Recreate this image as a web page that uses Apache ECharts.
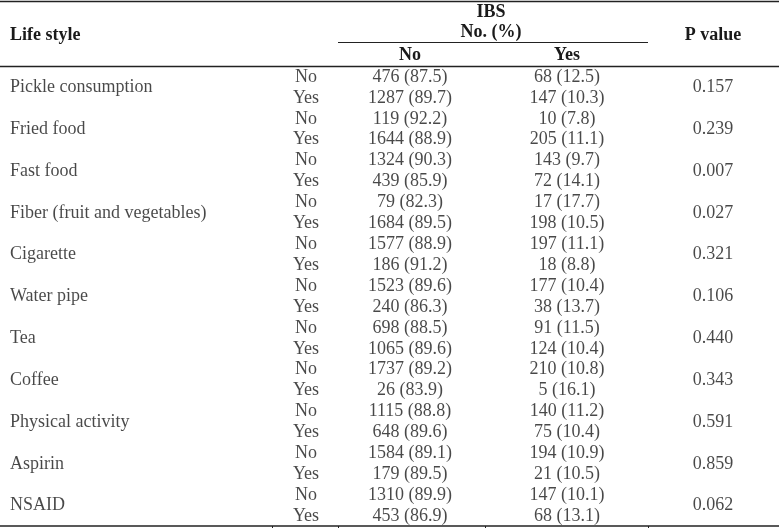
<!DOCTYPE html>
<html>
<head>
<meta charset="utf-8">
<style>
html,body{margin:0;padding:0;background:#fff;}
#chart{width:779px;height:528px;}
</style>
<script src="https://cdn.jsdelivr.net/npm/echarts@6/dist/echarts.min.js"></script>
</head>
<body>
<div id="chart"></div>
<script>
// ---- data ----
const lifeStyles = ['Pickle consumption','Fried food','Fast food','Fiber (fruit and vegetables)','Cigarette','Water pipe','Tea','Coffee','Physical activity','Aspirin','NSAID'];
const levels = ['No','Yes'];
const ibsNoCount = [476,1287,119,1644,1324,439,79,1684,1577,186,1523,240,698,1065,1737,26,1115,648,1584,179,1310,453];
const ibsNoPct = [87.5,89.7,92.2,88.9,90.3,85.9,82.3,89.5,88.9,91.2,89.6,86.3,88.5,89.6,89.2,83.9,88.8,89.6,89.1,89.5,89.9,86.9];
const ibsYesCount = [68,147,10,205,143,72,17,198,197,18,177,38,91,124,210,5,140,75,194,21,147,68];
const ibsYesPct = [12.5,10.3,7.8,11.1,9.7,14.1,17.7,10.5,11.1,8.8,10.4,13.7,11.5,10.4,10.8,16.1,11.2,10.4,10.9,10.5,10.1,13.1];
const pValues = ['0.157','0.239','0.007','0.027','0.321','0.106','0.440','0.343','0.591','0.859','0.062'];
const headers = {lifeStyle:'Life style', ibs:'IBS', noPct:'No. (%)', no:'No', yes:'Yes', p:'P value'};

// ---- layout ----
const FONT = '"Liberation Serif", "Times New Roman", serif';
const FS = 18;
const TXT = '#1a1a1a';
const COL = {name:10, level:306, no:410, yes:567, p:713};
const nRows = ibsNoCount.length;

function textSeries(name, x, align, items){
  return {
    type:'scatter', name, symbolSize:0, silent:true,
    data: items.map(it => ({value:[x, it.y], label:{formatter:it.t}})),
    label:{show:true, position:'inside', align, verticalAlign:'middle',
      color:TXT, fontFamily:FONT, fontSize:FS}
  };
}

const nameItems = lifeStyles.map((t,g)=>({t, y:2*g+1}));
const levelItems = ibsNoCount.map((_,i)=>({t:levels[i%2], y:i+0.5}));
const noItems = ibsNoCount.map((c,i)=>({t:c+' ('+ibsNoPct[i].toFixed(1)+')', y:i+0.5}));
const yesItems = ibsYesCount.map((c,i)=>({t:c+' ('+ibsYesPct[i].toFixed(1)+')', y:i+0.5}));
const pItems = pValues.map((t,g)=>({t, y:2*g+1}));

const chart = echarts.init(document.getElementById('chart'), null, {renderer:'canvas'});
const hdr = (text, x, y, align) => ({type:'text', x, y, silent:true,
  style:{text, fill:TXT, font:'bold '+FS+'px '+FONT, textAlign:align, textVerticalAlign:'middle'}});
const line = (x1,y1,x2,y2,w) => ({type:'line', silent:true,
  shape:{x1,y1,x2,y2}, style:{stroke:'#222', lineWidth:w||1.3}});

chart.setOption({
  animation:false,
  backgroundColor:'#fff',
  grid:{left:0, right:0, top:66.5, height:460},
  xAxis:{type:'value', min:0, max:779, show:false},
  yAxis:{type:'value', min:0, max:nRows, inverse:true, show:false},
  series:[
    textSeries('lifeStyle', COL.name, 'left', nameItems),
    textSeries('level', COL.level, 'center', levelItems),
    textSeries('ibsNo', COL.no, 'center', noItems),
    textSeries('ibsYes', COL.yes, 'center', yesItems),
    textSeries('pValue', COL.p, 'center', pItems)
  ],
  graphic:[
    line(0,1.5,779,1.5),
    line(338,42.5,648,42.5,1),
    line(0,66.5,779,66.5),
    line(0,526,779,526),
    line(272.5,526,272.5,528,1), line(338.5,526,338.5,528,1),
    line(485.5,526,485.5,528,1), line(648.5,526,648.5,528,1),
    hdr(headers.lifeStyle, 10, 35, 'left'),
    hdr(headers.ibs, 491, 12, 'center'),
    hdr(headers.noPct, 491, 32, 'center'),
    hdr(headers.no, COL.no, 55, 'center'),
    hdr(headers.yes, COL.yes, 55, 'center'),
    hdr(headers.p, COL.p, 35, 'center')
  ]
});
</script>
</body>
</html>
